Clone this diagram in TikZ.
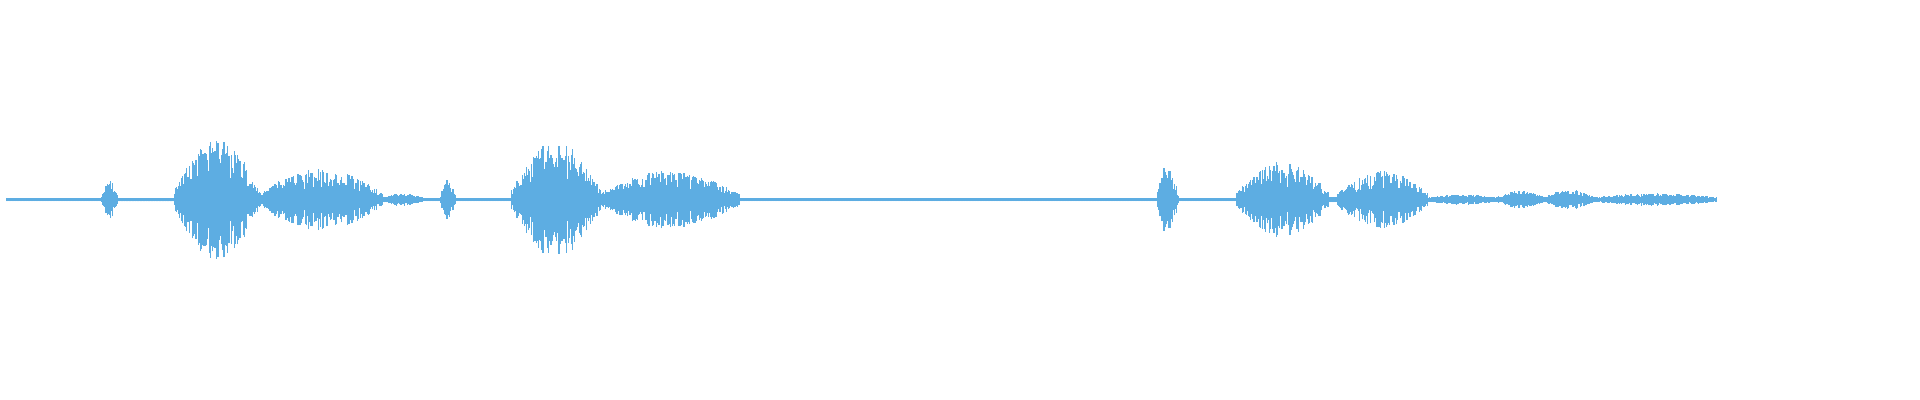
\documentclass[tikz,border=0pt]{standalone}
\usepackage{tikz}
\definecolor{wavecol}{HTML}{5DADE2}
\tikzset{wave/.style={draw=wavecol,line width=0.35pt}}
\begin{document}
\begin{tikzpicture}[x=0.012245cm,y=0.012245cm]
    \useasboundingbox (0,0) rectangle (1568,326);
    \pgfmathsetseed{7}
    % segments: start/end/peak amplitude/floor amplitude
    \foreach \a/\b/\amp/\fl in {5/83/0/1.2, 83/96/15/1.2, 96/143/0/1.5, 143/212/48/2,
        212/312/24/2, 312/345/4/1.2, 345/360/0/1.2, 360/372/15/1.2, 372/418/0/1.2,
        418/490/46/2, 490/604/22/2, 604/945/0/1.2, 945/962/28/1.2, 962/1010/0/1.2,
        1010/1085/29/2, 1085/1092/0/2, 1092/1166/22/2, 1166/1222/3/1.2,
        1222/1262/6/1.2, 1262/1302/7/1.2, 1302/1402/4/1.2}{
        \foreach \x in {\a,\a.5,...,\b}{
            \pgfmathsetmacro\t{(\x-\a)/(\b-\a)}
            \pgfmathsetmacro\h{\fl+\amp*(0.15+0.85*sin(180*\t))*(0.25+0.75*rnd)}
            \draw[wave] (\x,163-\h) -- (\x,163+\h);
        }
    }
\end{tikzpicture}
\end{document}
